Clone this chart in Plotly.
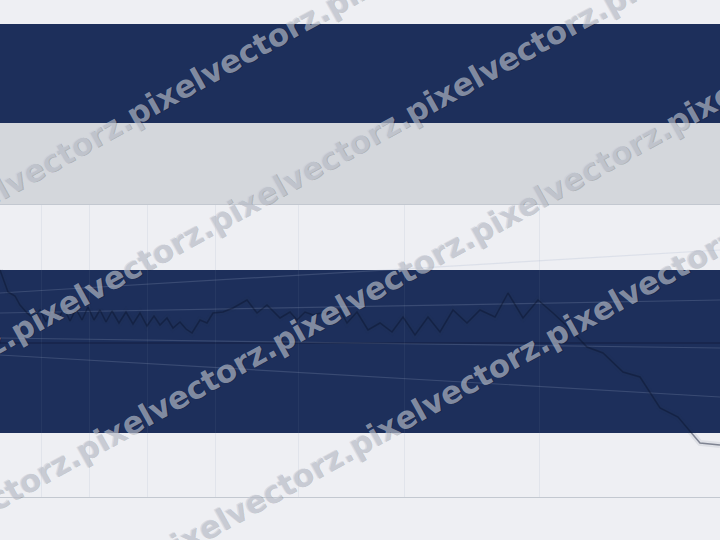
import plotly.graph_objects as go

# ---------------- data ----------------
series_x = [0, 8, 15, 20, 27, 33, 40, 46, 52, 58, 64, 70, 76, 82, 88, 94, 100, 106, 112, 119,
            126, 133, 140, 147, 154, 160, 167, 173, 180, 186, 192, 200, 207, 213, 223, 233, 247,
            257, 267, 280, 290, 297, 305, 313, 325, 340, 347, 357, 368, 380, 392, 403, 415, 428,
            440, 453, 467, 480, 495, 508, 523, 538, 553, 568, 587, 603, 623, 640, 660, 678, 700, 720]
series_y = [27.0, 24.8, 24.4, 23.5, 22.7, 22.2, 23.0, 21.8, 23.1, 22.0, 23.2, 21.9, 23.1, 22.0,
            23.3, 22.0, 23.0, 21.8, 22.9, 21.7, 22.8, 21.6, 22.7, 21.4, 22.4, 21.5, 22.2, 21.2,
            21.8, 21.1, 20.7, 22.0, 21.7, 22.7, 22.8, 23.2, 24.0, 22.7, 23.5, 22.2, 22.8, 22.0,
            22.8, 22.5, 22.8, 23.0, 21.7, 22.8, 21.0, 21.7, 20.8, 22.3, 20.5, 22.3, 20.8, 23.0,
            21.7, 23.0, 22.3, 24.7, 22.2, 24.0, 22.7, 21.3, 19.3, 18.7, 16.8, 16.3, 13.2, 12.3,
            9.7, 9.5]

trend_x = [0, 720]
trend_a = [24.7, 29.0]
trend_b = [22.7, 24.0]
trend_c = [20.2, 19.2]
trend_d = [18.5, 14.3]
baseline = [19.7, 19.7]

grid_x = [41, 89, 147, 215, 298, 404, 539]
highlight_band = [10.7, 27.0]
x_range = [0, 720]
y_range = [4.3, 33.5]

watermark_word = "pixelvectorz."

# ---------------- styles ----------------
BG = "#eeeff3"
NAVY = "#1d2f5b"
GRAY = "#d4d7dc"
W, H = 720, 540

fig = go.Figure()

trend_style = dict(color="rgba(160,172,200,0.22)", width=1.2)
for ys in (trend_a, trend_b, trend_c, trend_d):
    fig.add_trace(go.Scatter(x=trend_x, y=ys, mode="lines", line=trend_style,
                             hoverinfo="skip", showlegend=False))
fig.add_trace(go.Scatter(x=trend_x, y=baseline, mode="lines",
                         line=dict(color="rgba(0,0,20,0.35)", width=1),
                         hoverinfo="skip", showlegend=False))
fig.add_trace(go.Scatter(x=series_x, y=series_y, mode="lines",
                         line=dict(color="rgba(40,50,80,0.08)", width=6),
                         hoverinfo="skip", showlegend=False))
fig.add_trace(go.Scatter(x=series_x, y=series_y, mode="lines",
                         line=dict(color="rgba(10,20,45,0.45)", width=1.5),
                         showlegend=False))

plot_bottom = 43 / H
plot_top = 335 / H

shapes = [
    dict(type="rect", xref="paper", yref="paper", x0=0, x1=1, y0=1 - 123 / H, y1=1 - 24 / H,
         fillcolor=NAVY, line=dict(width=0), layer="below"),
    dict(type="rect", xref="paper", yref="paper", x0=0, x1=1, y0=plot_top, y1=1 - 123 / H,
         fillcolor=GRAY, line=dict(width=0), layer="below"),
    dict(type="rect", xref="paper", yref="y", x0=0, x1=1,
         y0=highlight_band[0], y1=highlight_band[1],
         fillcolor=NAVY, line=dict(width=0), layer="below"),
]

ang = 29
anns = []
for cx, cy in [(227, 63), (308, 170), (372, 290), (448, 394)]:
    anns.append(dict(
        text=watermark_word * 7, x=cx / W, y=1 - cy / H, xref="paper", yref="paper",
        showarrow=False, textangle=-ang, xanchor="center", yanchor="middle",
        font=dict(family="DejaVu Sans", size=31, weight="bold",
                  color="rgba(200,206,218,0.6)",
                  shadow="1px 1px 0px rgba(0,0,0,0.3)"),
    ))

fig.update_layout(
    width=W, height=H, margin=dict(l=0, r=0, t=0, b=0),
    paper_bgcolor=BG, plot_bgcolor=BG,
    shapes=shapes, annotations=anns, showlegend=False,
    xaxis=dict(range=x_range, tickvals=grid_x, showticklabels=False, ticks="",
               showgrid=True, gridcolor="rgba(120,135,165,0.10)", gridwidth=1,
               zeroline=False, showline=True, mirror=True, linecolor="#c3c8d0",
               linewidth=1),
    yaxis=dict(range=y_range, domain=[plot_bottom, plot_top], showticklabels=False,
               ticks="", showgrid=False, zeroline=False, showline=False),
)

fig.write_html("out.html", config={"displayModeBar": False},
               post_script="document.body.style.margin='0';document.body.style.padding='0';")
